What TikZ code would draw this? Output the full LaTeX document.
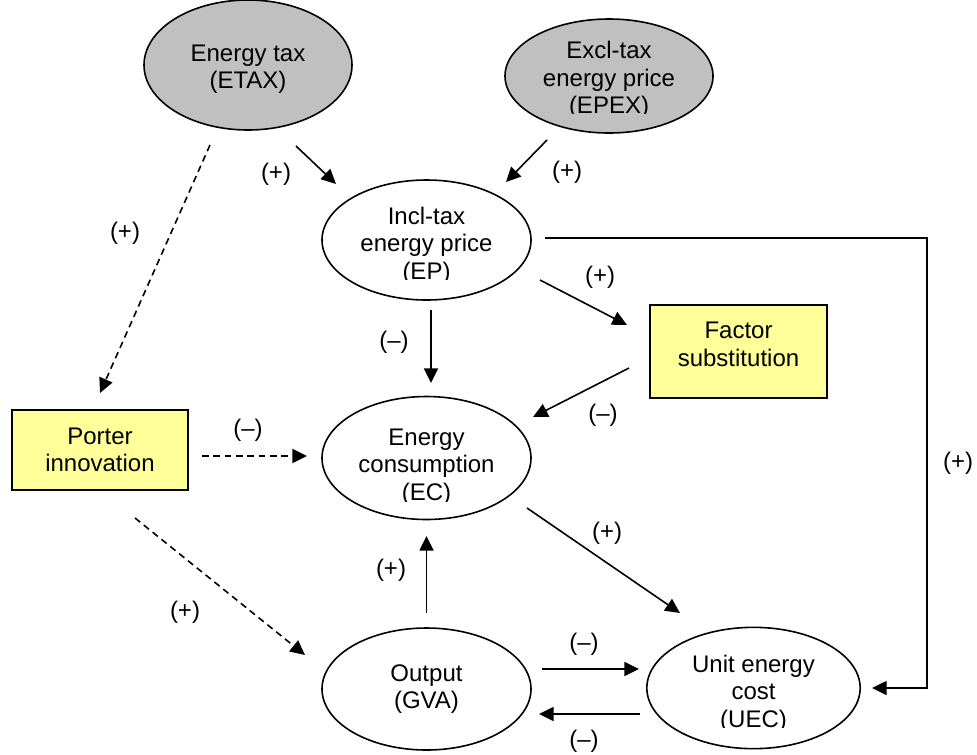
\documentclass[tikz,border=0pt]{standalone}
\usepackage{fontspec}
\setmainfont{Liberation Sans}
\usetikzlibrary{arrows.meta,calc,shapes.geometric}
\definecolor{ovalgray}{HTML}{C0C0C0}
\definecolor{boxyellow}{HTML}{FFFF99}
\begin{document}
\begin{tikzpicture}[x=0.75pt,y=-0.75pt,
  every node/.style={font=\fontsize{18}{20.6}\selectfont},
  oval/.style={ellipse, draw, line width=1.2pt, inner sep=0pt},
  grayoval/.style={oval, fill=ovalgray},
  txt/.style={align=center, inner sep=0pt},
  box/.style={rectangle, draw, line width=1.2pt, fill=boxyellow, align=center, inner sep=0pt},
  arr/.style={line width=1.2pt, -{Triangle[length=11pt,width=10.5pt]}},
  darr/.style={arr, dash pattern=on 5pt off 3.5pt},
  sign/.style={inner sep=0pt}]
\useasboundingbox (0,0) rectangle (977,754);

% shapes
\node[grayoval, minimum width=156pt, minimum height=97.5pt] (etax) at (248,65) {};
\node[grayoval, minimum width=156pt, minimum height=85.5pt] (epex) at (609,76) {};
\node[oval, minimum width=156.75pt, minimum height=90pt] (ep) at (426.5,240) {};
\node[oval, minimum width=156.75pt, minimum height=92.25pt] (ec) at (426.5,458) {};
\node[oval, minimum width=156.75pt, minimum height=91.5pt] (out) at (426.5,689) {};
\node[oval, minimum width=160pt, minimum height=91pt] (uec) at (753.5,688) {};
\node[box, minimum width=132pt, minimum height=60pt] (porter) at (100,450) {Porter\\innovation};
\node[box, minimum width=132.75pt, minimum height=69.75pt] (factor) at (738.5,351.5) {};

% texts in the shapes
\node[txt] (etax-t) at ($(etax)+(0,4)$) {Energy tax\\(ETAX)};
\node[txt] (out-t) at (out) {Output\\(GVA)};
\node[txt] (factor-t) at ($(factor)+(0,-7)$) {Factor\\substitution};
\begin{scope}
  \clip ($(epex)+(-90,-60)$) rectangle ($(epex)+(90,4+33.5)$);
  \node[txt] (epex-t) at ($(epex)+(0,4)$) {Excl-tax\\energy price\\(EPEX)};
\end{scope}
\begin{scope}
  \clip ($(ep)+(-90,-60)$) rectangle ($(ep)+(90,5.5+34)$);
  \node[txt] (ep-t) at ($(ep)+(0,5.5)$) {Incl-tax\\energy price\\(EP)};
\end{scope}
\begin{scope}
  \clip ($(ec)+(-90,-60)$) rectangle ($(ec)+(90,9+34)$);
  \node[txt] (ec-t) at ($(ec)+(0,9)$) {Energy\\consumption\\(EC)};
\end{scope}
\begin{scope}
  \clip ($(uec)+(-90,-60)$) rectangle ($(uec)+(90,5.5+34)$);
  \node[txt] (uec-t) at ($(uec)+(0,5.5)$) {Unit energy\\cost\\(UEC)};
\end{scope}

% connectors
\draw[arr] ($(etax)+(48,81)$) -- ($(ep)+(-90.5,-56)$);
\node[sign] (l1) at (276,174) {(+)};

\draw[arr] ($(epex)+(-62,64)$) -- ($(ep)+(79.5,-58)$);
\node[sign] (l2) at (567,172) {(+)};

\draw[darr] ($(etax)+(-38,80)$) -- ($(porter)+(0,-57)$);
\node[sign] (l3) at (125,233) {(+)};

\draw[arr] ($(ep)+(118.5,-2)$) -| ($(uec)+(173.5,0)$) -- ($(uec)+(118.5,0)$);
\node[sign] (l4) at (958,463) {(+)};

\draw[arr] ($(ep)+(113.5,40)$) -- ($(factor)+(-111.5,-26.5)$);
\node[sign] (l5) at (600,277) {(+)};

\draw[arr] ($(ep)+(4.5,70)$) -- ($(ec)+(4.5,-75)$);
\node[sign] (l6) at (394,342) {(–)};

\draw[arr] ($(factor)+(-109.5,16.5)$) -- ($(ec)+(106.5,-41)$);
\node[sign] (l7) at (603,415) {(–)};

\draw[darr] ($(porter)+(102,6)$) -- ($(ec)+(-119.5,-2)$);
\node[sign] (l8) at (248,430) {(–)};

\draw[darr] ($(porter)+(35,68)$) -- ($(out)+(-121.5,-34)$);
\node[sign] (l9) at (185,612) {(+)};

\draw[arr] ($(ec)+(100.5,50)$) -- ($(uec)+(-73.5,-75)$);
\node[sign] (l10) at (607,533) {(+)};

\draw[arr] ($(out)+(0,-76)$) -- ($(ec)+(0,78)$);
\node[sign] (l11) at (391,570) {(+)};

\draw[arr] ($(out)+(115.5,-20)$) -- ($(uec)+(-114.5,-19)$);
\node[sign] (l12) at (584,644) {(–)};

\draw[arr] ($(uec)+(-113.5,26)$) -- ($(out)+(112.5,25)$);
\node[sign] (l13) at (584,741) {(–)};
\end{tikzpicture}
\end{document}
